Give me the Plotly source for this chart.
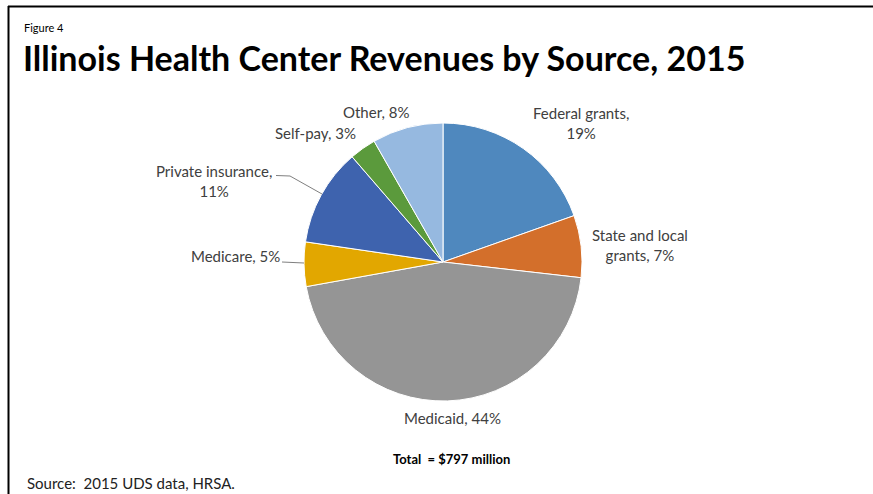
import plotly.graph_objects as go

W, H = 873, 494

# Revenue shares by source (percent), clockwise from 12 o'clock
sources = ["Federal grants", "State and local grants", "Medicaid", "Medicare",
           "Private insurance", "Self-pay", "Other"]
shares = [19, 7, 44, 5, 11, 3, 8]
colors = ["#4F88BE", "#D36F2B", "#959595", "#E2A700", "#3E63AE", "#5B9A3C", "#96B9E0"]

# label line breaks as set in the figure
label_lines = {
    "Federal grants": ("Federal grants,", "{v}%"),
    "State and local grants": ("State and local", "grants, {v}%"),
    "Private insurance": ("Private insurance,", "{v}%"),
}
# label anchor points in pixels (center of text block)
label_pos = {
    "Federal grants": (581, 123),
    "State and local grants": (640, 245),
    "Medicaid": (452, 418),
    "Medicare": (235, 256),
    "Private insurance": (214, 181),
    "Self-pay": (315, 133),
    "Other": (376, 112),
}

def px(x):
    return x / W

def py(y):
    return 1 - y / H

cx, cy, r = 443, 262, 139

fig = go.Figure(go.Pie(
    labels=sources,
    values=shares,
    sort=False,
    direction="clockwise",
    rotation=0,
    marker=dict(colors=colors, line=dict(color="white", width=1)),
    textinfo="none",
    hoverinfo="label+value",
    showlegend=False,
    domain=dict(x=[px(cx - r), px(cx + r)], y=[py(cy + r), py(cy - r)]),
))

label_font = dict(family="Lato, 'Open Sans', sans-serif", size=15, color="#404040")

for name, v in zip(sources, shares):
    if name in label_lines:
        a, b = label_lines[name]
        text = a.format(v=v) + "<br>" + b.format(v=v)
    else:
        text = f"{name}, {v}%"
    x, y = label_pos[name]
    fig.add_annotation(x=px(x), y=py(y), xref="paper", yref="paper", text=text,
                       showarrow=False, font=label_font, align="center",
                       xanchor="center", yanchor="middle")

shapes = [
    # frame
    dict(type="line", xref="paper", yref="paper", x0=px(8), x1=1, y0=py(6.5), y1=py(6.5),
         line=dict(color="black", width=2)),
    dict(type="line", xref="paper", yref="paper", x0=px(8.5), x1=px(8.5), y0=py(6), y1=0,
         line=dict(color="black", width=2)),
    # leader lines
    dict(type="path", xref="paper", yref="paper",
         path=f"M {px(276)},{py(175.5)} L {px(290)},{py(176)} L {px(322)},{py(194)}",
         line=dict(color="#7F7F7F", width=1)),
    dict(type="line", xref="paper", yref="paper", x0=px(282), x1=px(304), y0=py(262), y1=py(263),
         line=dict(color="#7F7F7F", width=1)),
]

fig.add_annotation(x=px(22), y=py(28), xref="paper", yref="paper", text="Figure 4",
                   showarrow=False, xanchor="left", yanchor="middle",
                   font=dict(family="Lato, sans-serif", size=11, color="#000000"))
fig.add_annotation(x=px(21), y=py(57), xref="paper", yref="paper",
                   text="<b>Illinois Health Center Revenues by Source, 2015</b>",
                   showarrow=False, xanchor="left", yanchor="middle",
                   font=dict(family="Lato, sans-serif", size=34, color="#000000"))
fig.add_annotation(x=px(451), y=py(459), xref="paper", yref="paper",
                   text="<b>Total  = $797 million</b>",
                   showarrow=False, xanchor="center", yanchor="middle",
                   font=dict(family="Lato, sans-serif", size=13, color="#000000"))
fig.add_annotation(x=px(25), y=py(483), xref="paper", yref="paper",
                   text="Source:  2015 UDS data, HRSA.",
                   showarrow=False, xanchor="left", yanchor="middle",
                   font=dict(family="Lato, sans-serif", size=15, color="#222222"))

fig.update_layout(width=W, height=H, margin=dict(l=0, r=0, t=0, b=0),
                  paper_bgcolor="white", plot_bgcolor="white", shapes=shapes)

fig.write_html("out.html")
